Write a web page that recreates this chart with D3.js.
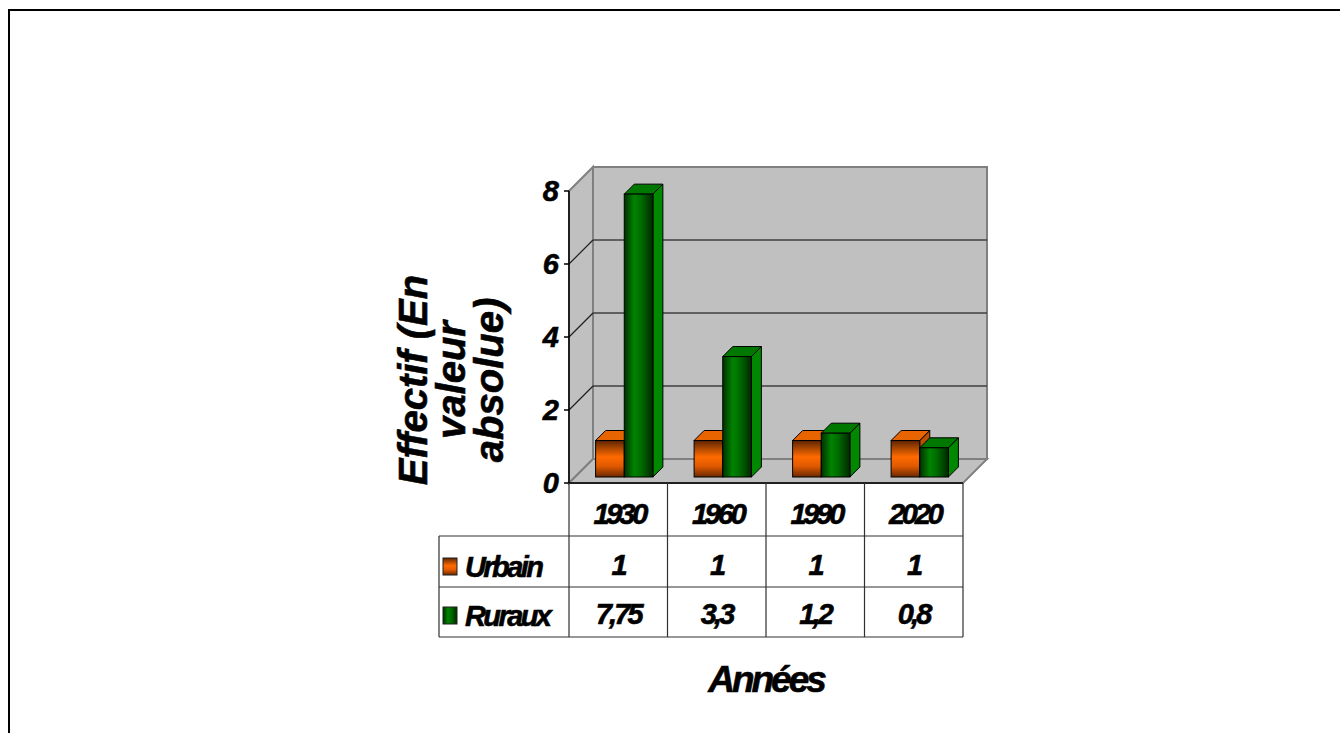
<!DOCTYPE html>
<html lang="fr">
<head>
<meta charset="utf-8">
<title>Effectif urbain / rural</title>
<script src="https://cdn.jsdelivr.net/npm/d3@7"></script>
<style>
  body { margin: 0; background: #fff; }
  text { font-family: "Liberation Sans", Arial, sans-serif; font-weight: bold; font-style: italic; stroke: #000; stroke-width: 0.6; }
</style>
</head>
<body>
<script>
// data
var categories = ["1930", "1960", "1990", "2020"];
var seriesNames = ["Urbain", "Ruraux"];
var urbain = [1, 1, 1, 1];
var ruraux = [7.75, 3.3, 1.2, 0.8];
var urbainLabels = ["1", "1", "1", "1"];
var rurauxLabels = ["7,75", "3,3", "1,2", "0,8"];
var yTicks = [0, 2, 4, 6, 8];

var W = 1340, H = 733;
var svg = d3.select("body").append("svg").attr("width", W).attr("height", H);

// gradients
var defs = svg.append("defs");
var gOr = defs.append("linearGradient").attr("id", "gOr").attr("x1", 0).attr("y1", 0).attr("x2", 0).attr("y2", 1);
[[0, "#5a2000"], [0.12, "#8a3800"], [0.45, "#ff6a00"], [0.7, "#e05a00"], [1, "#6a2800"]].forEach(function(s) {
  gOr.append("stop").attr("offset", s[0]).attr("stop-color", s[1]);
});
var gGr = defs.append("linearGradient").attr("id", "gGr").attr("x1", 0).attr("y1", 0).attr("x2", 1).attr("y2", 0);
[[0, "#003000"], [0.35, "#008400"], [0.6, "#006a00"], [1, "#002800"]].forEach(function(s) {
  gGr.append("stop").attr("offset", s[0]).attr("stop-color", s[1]);
});

var colors = {
  Urbain: { front: "url(#gOr)", top: "#e86400", side: "#c05000", key: "url(#gOr)" },
  Ruraux: { front: "url(#gGr)", top: "#007800", side: "#008800", key: "url(#gGr)" }
};

// frame of the page
svg.append("path").attr("d", "M9,733 L9,10 L1340,10").attr("fill", "none").attr("stroke", "#000").attr("stroke-width", 2);

// plot geometry
var x0 = 569, x1 = 963, depth = 24;
var x = d3.scaleBand().domain(categories).range([x0, x1]);
var xIn = d3.scaleBand().domain(seriesNames).range([0, x.bandwidth()]).paddingInner(0).paddingOuter(0.72);
var y = d3.scaleLinear().domain([0, 8]).range([483, 191]);

var y0 = y(0), yTop = y(8);

// walls
svg.append("path")
  .attr("d", "M" + x0 + "," + y0 + "L" + x0 + "," + yTop + "L" + (x0 + depth) + "," + (yTop - depth) + "L" + (x0 + depth) + "," + (y0 - depth) + "Z")
  .attr("fill", "#c0c0c0").attr("stroke", "#808080").attr("stroke-width", 2);
svg.append("rect")
  .attr("x", x0 + depth).attr("y", yTop - depth).attr("width", x1 - x0).attr("height", y0 - yTop)
  .attr("fill", "#c0c0c0").attr("stroke", "#808080").attr("stroke-width", 2);
svg.append("path")
  .attr("d", "M" + x0 + "," + y0 + "L" + x1 + "," + y0 + "L" + (x1 + depth) + "," + (y0 - depth) + "L" + (x0 + depth) + "," + (y0 - depth) + "Z")
  .attr("fill", "#c0c0c0").attr("stroke", "#808080").attr("stroke-width", 2);

// gridlines
var grid = yTicks.filter(function(d) { return d > 0 && d < 8; });
svg.selectAll(".gback").data(grid).enter().append("line")
  .attr("x1", x0 + depth).attr("x2", x1 + depth)
  .attr("y1", function(d) { return y(d) - depth; }).attr("y2", function(d) { return y(d) - depth; })
  .attr("stroke", "#404040").attr("stroke-width", 1.5);
svg.selectAll(".gside").data(grid).enter().append("line")
  .attr("x1", x0).attr("x2", x0 + depth)
  .attr("y1", function(d) { return y(d); }).attr("y2", function(d) { return y(d) - depth; })
  .attr("stroke", "#202020").attr("stroke-width", 1.2);

// y axis
svg.append("line").attr("x1", x0).attr("x2", x0).attr("y1", yTop).attr("y2", y0).attr("stroke", "#000").attr("stroke-width", 1.5);
svg.selectAll(".tick").data(yTicks).enter().append("line")
  .attr("x1", x0 - 5).attr("x2", x0).attr("y1", function(d) { return y(d); }).attr("y2", function(d) { return y(d); })
  .attr("stroke", "#000").attr("stroke-width", 1.5);
svg.selectAll(".tlab").data(yTicks).enter().append("text")
  .attr("x", x0 - 10).attr("y", function(d) { return y(d) + 10; })
  .attr("text-anchor", "end").attr("font-size", 29).text(function(d) { return d; });

// bars
var bDepth = 10, bOff = 6;
var bars = [];
categories.forEach(function(c, i) {
  bars.push({ c: c, s: "Urbain", v: urbain[i] });
  bars.push({ c: c, s: "Ruraux", v: ruraux[i] });
});
var bw = xIn.bandwidth();
var g = svg.selectAll(".bar").data(bars).enter().append("g");
g.each(function(d) {
  var gx = x(d.c) + xIn(d.s) + bOff;
  var gy = y0 - bOff;
  var ty = y(d.v) - bOff;
  var col = colors[d.s];
  var sel = d3.select(this);
  sel.append("path")
    .attr("d", "M" + (gx + bw) + "," + gy + "L" + (gx + bw + bDepth) + "," + (gy - bDepth) + "L" + (gx + bw + bDepth) + "," + (ty - bDepth) + "L" + (gx + bw) + "," + ty + "Z")
    .attr("fill", col.side).attr("stroke", "#000").attr("stroke-width", 1);
  sel.append("path")
    .attr("d", "M" + gx + "," + ty + "L" + (gx + bDepth) + "," + (ty - bDepth) + "L" + (gx + bw + bDepth) + "," + (ty - bDepth) + "L" + (gx + bw) + "," + ty + "Z")
    .attr("fill", col.top).attr("stroke", "#000").attr("stroke-width", 1);
  sel.append("rect")
    .attr("x", gx).attr("y", ty).attr("width", bw).attr("height", gy - ty)
    .attr("fill", col.front).attr("stroke", "#000").attr("stroke-width", 1);
});

// data table
var rowY = [483, 536, 587, 637];
var tLeft = 439;
var tc = "#303030";
svg.append("line").attr("x1", x0).attr("x2", x1).attr("y1", rowY[0]).attr("y2", rowY[0]).attr("stroke", "#000").attr("stroke-width", 1.5);
[rowY[1], rowY[2], rowY[3]].forEach(function(yy) {
  svg.append("line").attr("x1", tLeft).attr("x2", x1).attr("y1", yy).attr("y2", yy).attr("stroke", tc).attr("stroke-width", 1.2);
});
categories.forEach(function(c) {
  svg.append("line").attr("x1", x(c)).attr("x2", x(c)).attr("y1", rowY[0]).attr("y2", rowY[3]).attr("stroke", tc).attr("stroke-width", 1.2);
});
svg.append("line").attr("x1", x1).attr("x2", x1).attr("y1", rowY[0]).attr("y2", rowY[3]).attr("stroke", tc).attr("stroke-width", 1.2);
svg.append("line").attr("x1", tLeft).attr("x2", tLeft).attr("y1", rowY[1]).attr("y2", rowY[3]).attr("stroke", tc).attr("stroke-width", 1.2);

svg.selectAll(".yr").data(categories).enter().append("text")
  .attr("x", function(d) { return x(d) + x.bandwidth() / 2 + 1; }).attr("y", 524)
  .attr("text-anchor", "middle").attr("font-size", 29).attr("letter-spacing", -3.2)
  .text(function(d) { return d; });
[urbainLabels, rurauxLabels].forEach(function(arr, r) {
  svg.selectAll(".v" + r).data(arr).enter().append("text")
    .attr("x", function(d, i) { return x(categories[i]) + x.bandwidth() / 2; })
    .attr("y", r === 0 ? 575 : 624)
    .attr("text-anchor", "middle").attr("font-size", 29).attr("letter-spacing", -2.8)
    .text(function(d) { return d; });
});
seriesNames.forEach(function(s, r) {
  var cy = r === 0 ? 566 : 615;
  svg.append("rect").attr("x", 443).attr("y", cy - 8).attr("width", 14).attr("height", 17)
    .attr("fill", colors[s].key).attr("stroke", "#202020").attr("stroke-width", 1);
  svg.append("text").attr("x", 465).attr("y", cy + 11).attr("font-size", 29).attr("letter-spacing", -2.6).text(s);
});

// axis titles
svg.append("text").attr("x", 766).attr("y", 692).attr("text-anchor", "middle")
  .attr("font-size", 37).attr("letter-spacing", -3).text("Années");
var yt = svg.append("text").attr("transform", "translate(427,380) rotate(-90)")
  .attr("text-anchor", "middle").attr("font-size", 40);
["Effectif (En", "valeur", "absolue)"].forEach(function(l, i) {
  yt.append("tspan").attr("x", 0).attr("y", i * 38).text(l);
});
</script>
</body>
</html>
